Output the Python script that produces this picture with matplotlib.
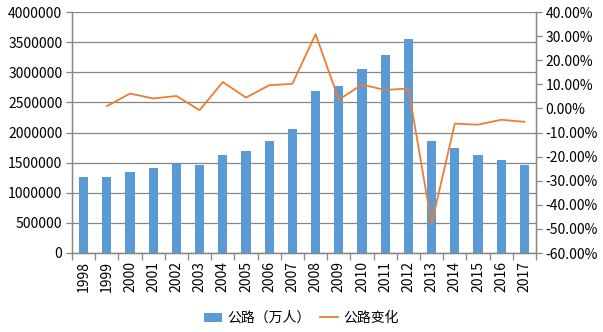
import matplotlib
matplotlib.use("Agg")
import matplotlib.pyplot as plt
import numpy as np
from matplotlib.ticker import FuncFormatter, MultipleLocator

plt.rcParams['font.family'] = ['Noto Sans CJK SC', 'DejaVu Sans']

years = ['1998', '1999', '2000', '2001', '2002', '2003', '2004', '2005', '2006', '2007',
         '2008', '2009', '2010', '2011', '2012', '2013', '2014', '2015', '2016', '2017']
volume = [1257332, 1269004, 1347392, 1402798, 1475257, 1464335, 1624526, 1697381, 1860487, 2050680,
          2682114, 2779081, 3052738, 3286220, 3557010, 1853463, 1736270, 1619097, 1542759, 1456784]
change = [None, 0.93, 6.18, 4.11, 5.17, -0.74, 10.94, 4.48, 9.61, 10.22,
          30.79, 3.62, 9.85, 7.65, 8.24, -47.89, -6.32, -6.75, -4.71, -5.57]

bar_color = '#5B9BD5'
line_color = '#ED7D31'
grid_color = '#868686'

fig = plt.figure(figsize=(6.03, 3.32), dpi=100)
ax = fig.add_axes([72/603, 1 - 253/332, (536-72)/603, (253-12)/332])
x = np.arange(len(years))
ax.bar(x, volume, width=0.4, color=bar_color, zorder=2, label='公路（万人）')
ax.set_xlim(-0.5, len(years) - 0.5)
ax.set_ylim(0, 4000000)
ax.yaxis.set_major_locator(MultipleLocator(500000))
ax.yaxis.set_major_formatter(FuncFormatter(lambda v, p: f'{int(round(v))}'))
ax.grid(axis='y', color=grid_color, linewidth=0.9, zorder=0)
ax.set_axisbelow(True)

ax2 = ax.twinx()
cx = [i for i, c in enumerate(change) if c is not None]
cy = [c for c in change if c is not None]
ax2.plot(cx, cy, color=line_color, linewidth=1.3, label='公路变化', zorder=3)
ax2.set_ylim(-60, 40)
ax2.yaxis.set_major_locator(MultipleLocator(10))
ax2.yaxis.set_major_formatter(FuncFormatter(lambda v, p: f'{v:.2f}%'))

for a in (ax, ax2):
    a.spines['top'].set_visible(False)
    for s in ('left', 'right', 'bottom'):
        a.spines[s].set_color(grid_color)
        a.spines[s].set_linewidth(0.9)
    a.tick_params(axis='y', colors=grid_color, labelcolor='#000000', labelsize=10, length=4, width=0.9, pad=3)

ax.set_xticks(x)
ax.set_xticklabels(years, rotation=90, fontsize=10)
ax.tick_params(axis='x', length=0, pad=6)
ax.set_xticks(np.arange(-0.5, len(years)), minor=True)
ax.tick_params(axis='x', which='minor', length=5, width=0.9, color=grid_color)

h1, l1 = ax.get_legend_handles_labels()
h2, l2 = ax2.get_legend_handles_labels()
fig.legend(h1 + h2, l1 + l2, loc='center', bbox_to_anchor=(0.5, 1 - 318/332), ncol=2,
           frameon=False, fontsize=10, handlelength=1.3, handleheight=0.6, columnspacing=0.7, handletextpad=0.35)

fig.savefig('out.png', dpi=100)
